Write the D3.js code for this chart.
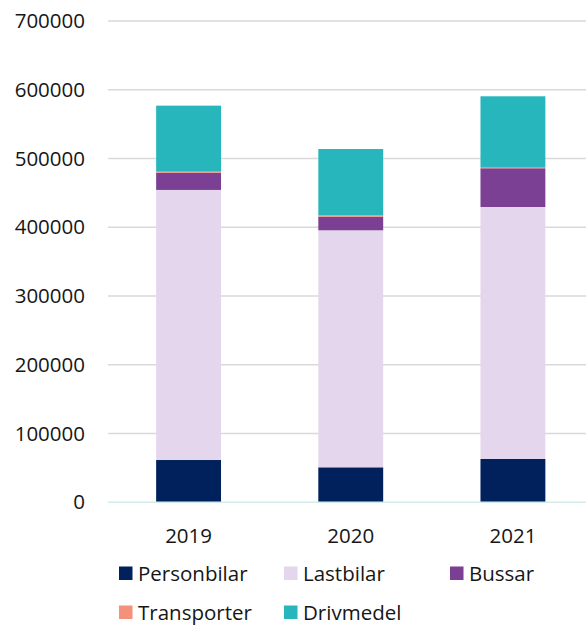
<!DOCTYPE html>
<html>
<head>
<meta charset="utf-8">
<script src="https://cdn.jsdelivr.net/npm/d3@7/dist/d3.min.js"></script>
<style>
  html, body { margin: 0; padding: 0; background: #fff; }
  svg { display: block; }
  text { font-family: "Open Sans", sans-serif; fill: #161616; }
</style>
</head>
<body>
<svg id="chart" width="586" height="625"></svg>
<script>
// Years along the x axis
const years = ["2019", "2020", "2021"];

// Stacked series, bottom to top
const seriesNames = ["Personbilar", "Lastbilar", "Bussar", "Transporter", "Drivmedel"];
const personbilar = [61500, 50900, 63000];
const lastbilar   = [392800, 344700, 366500];
const bussar      = [25100, 19800, 56300];
const transporter = [1500, 2000, 1900];
const drivmedel   = [96000, 96400, 102800];

// Y axis ticks
const yTicks = [0, 100000, 200000, 300000, 400000, 500000, 600000, 700000];

const colors = ["#00215b", "#e4d6ec", "#7b3f93", "#f4917b", "#27b6bb"];

const rows = years.map((y, i) => ({
  year: y,
  Personbilar: personbilar[i],
  Lastbilar: lastbilar[i],
  Bussar: bussar[i],
  Transporter: transporter[i],
  Drivmedel: drivmedel[i]
}));

const svg = d3.select("#chart");

const x = d3.scaleBand()
  .domain(years)
  .range([107.5, 594])
  .paddingInner(0.6)
  .paddingOuter(0.3);

const y = d3.scaleLinear()
  .domain([0, 700000])
  .range([502.3, 21]);

const color = d3.scaleOrdinal().domain(seriesNames).range(colors);

// Horizontal gridlines
svg.append("g")
  .selectAll("line")
  .data(yTicks.filter(t => t > 0))
  .join("line")
  .attr("x1", 108).attr("x2", 586)
  .attr("y1", d => y(d)).attr("y2", d => y(d))
  .attr("stroke", "#d9d9d9")
  .attr("stroke-width", 1.5);

// Y tick labels
svg.append("g")
  .selectAll("text")
  .data(yTicks)
  .join("text")
  .attr("x", 85)
  .attr("y", d => y(d) + 7)
  .attr("text-anchor", "end")
  .attr("font-size", 20.5)
  .text(d => d);

// Stacked bars
const stack = d3.stack().keys(seriesNames)(rows);

svg.append("g")
  .selectAll("g")
  .data(stack)
  .join("g")
  .attr("fill", d => color(d.key))
  .selectAll("rect")
  .data(d => d)
  .join("rect")
  .attr("x", d => x(d.data.year))
  .attr("width", x.bandwidth())
  .attr("y", d => y(d[1]))
  .attr("height", d => y(d[0]) - y(d[1]));

// Baseline at zero
svg.append("line")
  .attr("x1", 108).attr("x2", 586)
  .attr("y1", y(0)).attr("y2", y(0))
  .attr("stroke", "#d3ebea")
  .attr("stroke-width", 1.5);

// X category labels
svg.append("g")
  .selectAll("text")
  .data(years)
  .join("text")
  .attr("x", d => x(d) + x.bandwidth() / 2)
  .attr("y", 542.5)
  .attr("text-anchor", "middle")
  .attr("font-size", 20.5)
  .text(d => d);

// Legend, three columns wrapping onto a second row
const legendCols = [119, 284, 450];
const legendRows = [573, 612];
const legend = svg.append("g")
  .selectAll("g")
  .data(seriesNames)
  .join("g")
  .attr("transform", (d, i) => `translate(${legendCols[i % 3]},${legendRows[Math.floor(i / 3)]})`);

legend.append("rect")
  .attr("x", 0).attr("y", -6.5)
  .attr("width", 13.5).attr("height", 13.5)
  .attr("fill", d => color(d));

legend.append("text")
  .attr("x", 19)
  .attr("y", 7.5)
  .attr("font-size", 20.5)
  .text(d => d);
</script>
</body>
</html>
